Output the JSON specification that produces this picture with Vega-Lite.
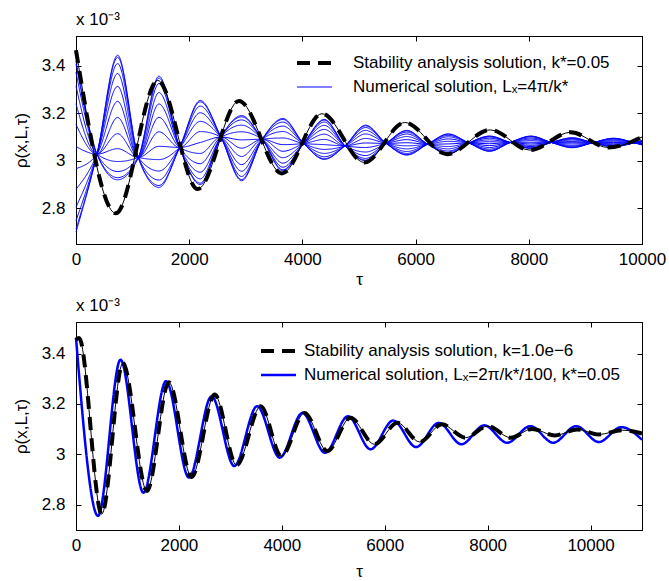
{
"$schema":"https://vega.github.io/schema/vega-lite/v6.json",
"padding":{"left":11,"top":10,"right":5,"bottom":5},
"background":"white",
"config":{
 "font":"Liberation Sans",
 "view":{"stroke":"black","strokeWidth":1},
 "axis":{"grid":false,"domainColor":"black","tickColor":"black","labelColor":"black","titleColor":"black","labelFont":"Liberation Sans","titleFont":"Liberation Sans","labelFontSize":17,"titleFontSize":17,"titleFontWeight":"normal","tickSize":-5,"labelFlush":false,"labelOverlap":false},
 "title":{"font":"Liberation Sans","fontSize":17,"fontWeight":"normal","anchor":"start","frame":"group","offset":7,"color":"black"},
 "legend":{"labelFont":"Liberation Sans","labelFontSize":17,"labelColor":"black","labelLimit":500},
 "concat":{"spacing":8}
},
"datasets":{
 "topBlue":[
  {"t":0,"a":2.700,"b":2.712,"c":2.748,"d":2.805,"e":2.880,"f":2.967,"g":3.060,"h":3.153,"i":3.240,"j":3.315,"k":3.372,"l":3.408,"m":3.420},
  {"t":371,"a":3.028,"b":3.028,"c":3.028,"d":3.028,"e":3.028,"f":3.028,"g":3.028,"h":3.028,"i":3.028,"j":3.028,"k":3.028,"l":3.028,"m":3.028},
  {"t":736,"a":3.444,"b":3.435,"c":3.409,"d":3.367,"e":3.313,"f":3.250,"g":3.182,"h":3.114,"i":3.051,"j":2.997,"k":2.955,"l":2.929,"m":2.920},
  {"t":1101,"a":3.014,"b":3.014,"c":3.014,"d":3.014,"e":3.014,"f":3.014,"g":3.014,"h":3.014,"i":3.014,"j":3.014,"k":3.014,"l":3.014,"m":3.014},
  {"t":1466,"a":2.888,"b":2.896,"c":2.919,"d":2.957,"e":3.005,"f":3.061,"g":3.122,"h":3.183,"i":3.239,"j":3.287,"k":3.325,"l":3.348,"m":3.356},
  {"t":1831,"a":3.056,"b":3.056,"c":3.056,"d":3.056,"e":3.056,"f":3.056,"g":3.056,"h":3.056,"i":3.056,"j":3.056,"k":3.056,"l":3.056,"m":3.056},
  {"t":2196,"a":3.254,"b":3.248,"c":3.230,"d":3.202,"e":3.166,"f":3.123,"g":3.077,"h":3.031,"i":2.988,"j":2.952,"k":2.924,"l":2.906,"m":2.900},
  {"t":2561,"a":3.100,"b":3.100,"c":3.100,"d":3.100,"e":3.100,"f":3.100,"g":3.100,"h":3.100,"i":3.100,"j":3.100,"k":3.100,"l":3.100,"m":3.100},
  {"t":2926,"a":2.916,"b":2.921,"c":2.934,"d":2.956,"e":2.984,"f":3.018,"g":3.053,"h":3.088,"i":3.122,"j":3.150,"k":3.172,"l":3.185,"m":3.190},
  {"t":3291,"a":3.091,"b":3.091,"c":3.091,"d":3.091,"e":3.091,"f":3.091,"g":3.091,"h":3.091,"i":3.091,"j":3.091,"k":3.091,"l":3.091,"m":3.091},
  {"t":3656,"a":3.178,"b":3.174,"c":3.163,"d":3.146,"e":3.123,"f":3.096,"g":3.068,"h":3.040,"i":3.013,"j":2.990,"k":2.973,"l":2.962,"m":2.958},
  {"t":4021,"a":3.073,"b":3.073,"c":3.073,"d":3.073,"e":3.073,"f":3.073,"g":3.073,"h":3.073,"i":3.073,"j":3.073,"k":3.073,"l":3.073,"m":3.073},
  {"t":4386,"a":3.006,"b":3.009,"c":3.017,"d":3.031,"e":3.048,"f":3.068,"g":3.090,"h":3.112,"i":3.132,"j":3.149,"k":3.163,"l":3.171,"m":3.174},
  {"t":4751,"a":3.063,"b":3.063,"c":3.063,"d":3.063,"e":3.063,"f":3.063,"g":3.063,"h":3.063,"i":3.063,"j":3.063,"k":3.063,"l":3.063,"m":3.063},
  {"t":5116,"a":3.150,"b":3.147,"c":3.140,"d":3.128,"e":3.113,"f":3.094,"g":3.075,"h":3.056,"i":3.037,"j":3.022,"k":3.010,"l":3.003,"m":3.000},
  {"t":5481,"a":3.073,"b":3.073,"c":3.073,"d":3.073,"e":3.073,"f":3.073,"g":3.073,"h":3.073,"i":3.073,"j":3.073,"k":3.073,"l":3.073,"m":3.073},
  {"t":5846,"a":3.024,"b":3.026,"c":3.031,"d":3.039,"e":3.050,"f":3.063,"g":3.076,"h":3.089,"i":3.102,"j":3.113,"k":3.121,"l":3.126,"m":3.128},
  {"t":6211,"a":3.070,"b":3.070,"c":3.070,"d":3.070,"e":3.070,"f":3.070,"g":3.070,"h":3.070,"i":3.070,"j":3.070,"k":3.070,"l":3.070,"m":3.070},
  {"t":6576,"a":3.113,"b":3.112,"c":3.107,"d":3.101,"e":3.092,"f":3.082,"g":3.071,"h":3.060,"i":3.050,"j":3.041,"k":3.035,"l":3.030,"m":3.029},
  {"t":6941,"a":3.075,"b":3.075,"c":3.075,"d":3.075,"e":3.075,"f":3.075,"g":3.075,"h":3.075,"i":3.075,"j":3.075,"k":3.075,"l":3.075,"m":3.075},
  {"t":7306,"a":3.040,"b":3.041,"c":3.044,"d":3.049,"e":3.056,"f":3.064,"g":3.072,"h":3.080,"i":3.088,"j":3.095,"k":3.100,"l":3.103,"m":3.104},
  {"t":7671,"a":3.077,"b":3.077,"c":3.077,"d":3.077,"e":3.077,"f":3.077,"g":3.077,"h":3.077,"i":3.077,"j":3.077,"k":3.077,"l":3.077,"m":3.077},
  {"t":8036,"a":3.104,"b":3.103,"c":3.101,"d":3.096,"e":3.091,"f":3.085,"g":3.078,"h":3.071,"i":3.065,"j":3.060,"k":3.055,"l":3.053,"m":3.052},
  {"t":8401,"a":3.077,"b":3.077,"c":3.077,"d":3.077,"e":3.077,"f":3.077,"g":3.077,"h":3.077,"i":3.077,"j":3.077,"k":3.077,"l":3.077,"m":3.077},
  {"t":8766,"a":3.055,"b":3.056,"c":3.058,"d":3.061,"e":3.065,"f":3.071,"g":3.076,"h":3.081,"i":3.087,"j":3.091,"k":3.094,"l":3.096,"m":3.097},
  {"t":9131,"a":3.076,"b":3.076,"c":3.076,"d":3.076,"e":3.076,"f":3.076,"g":3.076,"h":3.076,"i":3.076,"j":3.076,"k":3.076,"l":3.076,"m":3.076},
  {"t":9496,"a":3.095,"b":3.094,"c":3.093,"d":3.090,"e":3.086,"f":3.082,"g":3.077,"h":3.072,"i":3.068,"j":3.064,"k":3.061,"l":3.060,"m":3.059},
  {"t":9861,"a":3.076,"b":3.076,"c":3.076,"d":3.076,"e":3.076,"f":3.076,"g":3.076,"h":3.076,"i":3.076,"j":3.076,"k":3.076,"l":3.076,"m":3.076},
  {"t":10000,"a":3.067,"b":3.067,"c":3.068,"d":3.070,"e":3.071,"f":3.074,"g":3.076,"h":3.078,"i":3.081,"j":3.082,"k":3.084,"l":3.085,"m":3.085}
 ],
 "topBlack":[
  {"t":0,"v":3.465},{"t":705,"v":2.779},{"t":1445,"v":3.338},{"t":2150,"v":2.881},{"t":2880,"v":3.252},{"t":3640,"v":2.947},{"t":4346,"v":3.198},{"t":5095,"v":2.993},{"t":5810,"v":3.161},{"t":6555,"v":3.028},{"t":7320,"v":3.13},{"t":8020,"v":3.045},{"t":8740,"v":3.12},{"t":9400,"v":3.056},{"t":10000,"v":3.10}
 ],
 "botBlue":[
  {"t":0,"v":3.462},{"t":428,"v":2.756},{"t":865,"v":3.375},{"t":1310,"v":2.848},{"t":1750,"v":3.29},{"t":2195,"v":2.908},{"t":2635,"v":3.23},{"t":3075,"v":2.954},{"t":3520,"v":3.191},{"t":3960,"v":2.987},{"t":4400,"v":3.164},{"t":4840,"v":3.006},{"t":5285,"v":3.151},{"t":5725,"v":3.02},{"t":6165,"v":3.134},{"t":6610,"v":3.029},{"t":7050,"v":3.125},{"t":7490,"v":3.04},{"t":7935,"v":3.115},{"t":8380,"v":3.046},{"t":8830,"v":3.112},{"t":9275,"v":3.046},{"t":9720,"v":3.112},{"t":10160,"v":3.049},{"t":10600,"v":3.108},{"t":11000,"v":3.058}
 ],
 "botBlack":[
  {"t":0,"v":3.455},{"t":60,"v":3.462},{"t":500,"v":2.763},{"t":910,"v":3.362},{"t":1378,"v":2.855},{"t":1805,"v":3.286},{"t":2245,"v":2.91},{"t":2695,"v":3.237},{"t":3120,"v":2.957},{"t":3590,"v":3.191},{"t":3990,"v":2.993},{"t":4440,"v":3.164},{"t":4885,"v":3.013},{"t":5333,"v":3.145},{"t":5800,"v":3.04},{"t":6250,"v":3.125},{"t":6680,"v":3.049},{"t":7110,"v":3.119},{"t":7570,"v":3.066},{"t":8000,"v":3.112},{"t":8450,"v":3.066},{"t":8865,"v":3.101},{"t":9305,"v":3.075},{"t":9740,"v":3.099},{"t":10165,"v":3.079},{"t":10612,"v":3.096},{"t":11000,"v":3.083}
 ]
},
"vconcat":[
 {
  "width":566,"height":208,
  "title":"x 10⁻³",
  "layer":[
   {"data":{"name":"topBlue"},
    "transform":[{"fold":["a","b","c","d","e","f","g","h","i","j","k","l","m"],"as":["curve","v"]}],
    "mark":{"type":"line","interpolate":"monotone"},
    "encoding":{
     "x":{"field":"t","type":"quantitative","scale":{"domain":[0,10000],"nice":false,"zero":false},"axis":{"orient":"bottom","values":[0,2000,4000,6000,8000,10000],"format":"d","title":"τ","labelPadding":12,"titlePadding":4}},
     "y":{"field":"v","type":"quantitative","scale":{"domain":[2.65,3.525],"nice":false,"zero":false},"axis":{"orient":"left","values":[2.8,3,3.2,3.4],"format":"~g","title":"ρ(x,L,τ)","labelPadding":16,"titlePadding":11}},
     "detail":{"field":"curve","type":"nominal"},
     "color":{"datum":"Numerical solution, Lₓ=4π/k*","scale":{"domain":["Stability analysis solution, k*=0.05","Numerical solution, Lₓ=4π/k*"],"range":["black","#0000ff"]},"legend":{"orient":"none","legendX":219,"legendY":19,"title":null,"symbolType":"stroke","symbolSize":1225,"clipHeight":16,"rowPadding":7,"labelOffset":19,"padding":0}},
     "strokeDash":{"datum":"Numerical solution, Lₓ=4π/k*","scale":{"type":"ordinal","domain":["Stability analysis solution, k*=0.05","Numerical solution, Lₓ=4π/k*"],"range":[[13,8],[1,0]]},"legend":{"orient":"none","legendX":219,"legendY":19,"title":null,"symbolType":"stroke","symbolSize":1225,"clipHeight":16,"rowPadding":7,"labelOffset":19,"padding":0}},
     "strokeWidth":{"datum":"Numerical solution, Lₓ=4π/k*","scale":{"type":"ordinal","domain":["Stability analysis solution, k*=0.05","Numerical solution, Lₓ=4π/k*"],"range":[4,1]},"legend":{"orient":"none","legendX":219,"legendY":19,"title":null,"symbolType":"stroke","symbolSize":1225,"clipHeight":16,"rowPadding":7,"labelOffset":19,"padding":0}}
    }},
   {"data":{"name":"topBlack"},
    "mark":{"type":"line","interpolate":"monotone","color":"black","strokeWidth":1},
    "encoding":{
     "x":{"field":"t","type":"quantitative","scale":{"domain":[0,10000],"nice":false,"zero":false},"axis":{"orient":"top","values":[0,2000,4000,6000,8000,10000],"labels":false,"title":null}},
     "y":{"field":"v","type":"quantitative","scale":{"domain":[2.65,3.525],"nice":false,"zero":false},"axis":{"orient":"right","values":[2.8,3,3.2,3.4],"labels":false,"title":null}}
    }},
   {"data":{"name":"topBlack"},
    "mark":{"type":"line","interpolate":"monotone"},
    "encoding":{
     "x":{"field":"t","type":"quantitative","scale":{"domain":[0,10000],"nice":false,"zero":false},"axis":null},
     "y":{"field":"v","type":"quantitative","scale":{"domain":[2.65,3.525],"nice":false,"zero":false},"axis":null},
     "color":{"datum":"Stability analysis solution, k*=0.05","scale":{"domain":["Stability analysis solution, k*=0.05","Numerical solution, Lₓ=4π/k*"],"range":["black","#0000ff"]},"legend":{"orient":"none","legendX":219,"legendY":19,"title":null,"symbolType":"stroke","symbolSize":1225,"clipHeight":16,"rowPadding":7,"labelOffset":19,"padding":0}},
     "strokeDash":{"datum":"Stability analysis solution, k*=0.05","scale":{"type":"ordinal","domain":["Stability analysis solution, k*=0.05","Numerical solution, Lₓ=4π/k*"],"range":[[13,8],[1,0]]},"legend":{"orient":"none","legendX":219,"legendY":19,"title":null,"symbolType":"stroke","symbolSize":1225,"clipHeight":16,"rowPadding":7,"labelOffset":19,"padding":0}},
     "strokeWidth":{"datum":"Stability analysis solution, k*=0.05","scale":{"type":"ordinal","domain":["Stability analysis solution, k*=0.05","Numerical solution, Lₓ=4π/k*"],"range":[4,1]},"legend":{"orient":"none","legendX":219,"legendY":19,"title":null,"symbolType":"stroke","symbolSize":1225,"clipHeight":16,"rowPadding":7,"labelOffset":19,"padding":0}}
    }}
  ]
 },
 {
  "width":566,"height":208,
  "title":"x 10⁻³",
  "layer":[
   {"data":{"name":"botBlue"},
    "mark":{"type":"line","interpolate":"monotone"},
    "encoding":{
     "x":{"field":"t","type":"quantitative","scale":{"domain":[0,11000],"nice":false,"zero":false},"axis":{"orient":"bottom","values":[0,2000,4000,6000,8000,10000],"format":"d","title":"τ","labelPadding":12,"titlePadding":10}},
     "y":{"field":"v","type":"quantitative","scale":{"domain":[2.70,3.525],"nice":false,"zero":false},"axis":{"orient":"left","values":[2.8,3,3.2,3.4],"format":"~g","title":"ρ(x,L,τ)","labelPadding":16,"titlePadding":11}},
     "color":{"datum":"Numerical solution, Lₓ=2π/k*/100, k*=0.05","scale":{"domain":["Stability analysis solution, k=1.0e−6","Numerical solution, Lₓ=2π/k*/100, k*=0.05"],"range":["black","#0000ff"]},"legend":{"orient":"none","legendX":183,"legendY":21,"title":null,"symbolType":"stroke","symbolSize":1225,"clipHeight":16,"rowPadding":7,"labelOffset":6,"padding":0}},
     "strokeDash":{"datum":"Numerical solution, Lₓ=2π/k*/100, k*=0.05","scale":{"type":"ordinal","domain":["Stability analysis solution, k=1.0e−6","Numerical solution, Lₓ=2π/k*/100, k*=0.05"],"range":[[13,8],[1,0]]},"legend":{"orient":"none","legendX":183,"legendY":21,"title":null,"symbolType":"stroke","symbolSize":1225,"clipHeight":16,"rowPadding":7,"labelOffset":6,"padding":0}},
     "strokeWidth":{"datum":"Numerical solution, Lₓ=2π/k*/100, k*=0.05","scale":{"type":"ordinal","domain":["Stability analysis solution, k=1.0e−6","Numerical solution, Lₓ=2π/k*/100, k*=0.05"],"range":[4,2.5]},"legend":{"orient":"none","legendX":183,"legendY":21,"title":null,"symbolType":"stroke","symbolSize":1225,"clipHeight":16,"rowPadding":7,"labelOffset":6,"padding":0}}
    }},
   {"data":{"name":"botBlack"},
    "mark":{"type":"line","interpolate":"monotone","color":"black","strokeWidth":1},
    "encoding":{
     "x":{"field":"t","type":"quantitative","scale":{"domain":[0,11000],"nice":false,"zero":false},"axis":{"orient":"top","values":[0,2000,4000,6000,8000,10000],"labels":false,"title":null}},
     "y":{"field":"v","type":"quantitative","scale":{"domain":[2.70,3.525],"nice":false,"zero":false},"axis":{"orient":"right","values":[2.8,3,3.2,3.4],"labels":false,"title":null}}
    }},
   {"data":{"name":"botBlack"},
    "mark":{"type":"line","interpolate":"monotone"},
    "encoding":{
     "x":{"field":"t","type":"quantitative","scale":{"domain":[0,11000],"nice":false,"zero":false},"axis":null},
     "y":{"field":"v","type":"quantitative","scale":{"domain":[2.70,3.525],"nice":false,"zero":false},"axis":null},
     "color":{"datum":"Stability analysis solution, k=1.0e−6","scale":{"domain":["Stability analysis solution, k=1.0e−6","Numerical solution, Lₓ=2π/k*/100, k*=0.05"],"range":["black","#0000ff"]},"legend":{"orient":"none","legendX":183,"legendY":21,"title":null,"symbolType":"stroke","symbolSize":1225,"clipHeight":16,"rowPadding":7,"labelOffset":6,"padding":0}},
     "strokeDash":{"datum":"Stability analysis solution, k=1.0e−6","scale":{"type":"ordinal","domain":["Stability analysis solution, k=1.0e−6","Numerical solution, Lₓ=2π/k*/100, k*=0.05"],"range":[[13,8],[1,0]]},"legend":{"orient":"none","legendX":183,"legendY":21,"title":null,"symbolType":"stroke","symbolSize":1225,"clipHeight":16,"rowPadding":7,"labelOffset":6,"padding":0}},
     "strokeWidth":{"datum":"Stability analysis solution, k=1.0e−6","scale":{"type":"ordinal","domain":["Stability analysis solution, k=1.0e−6","Numerical solution, Lₓ=2π/k*/100, k*=0.05"],"range":[4,2.5]},"legend":{"orient":"none","legendX":183,"legendY":21,"title":null,"symbolType":"stroke","symbolSize":1225,"clipHeight":16,"rowPadding":7,"labelOffset":6,"padding":0}}
    }}
  ]
 }
],
"resolve":{"scale":{"color":"independent","strokeDash":"independent","strokeWidth":"independent"}}
}
